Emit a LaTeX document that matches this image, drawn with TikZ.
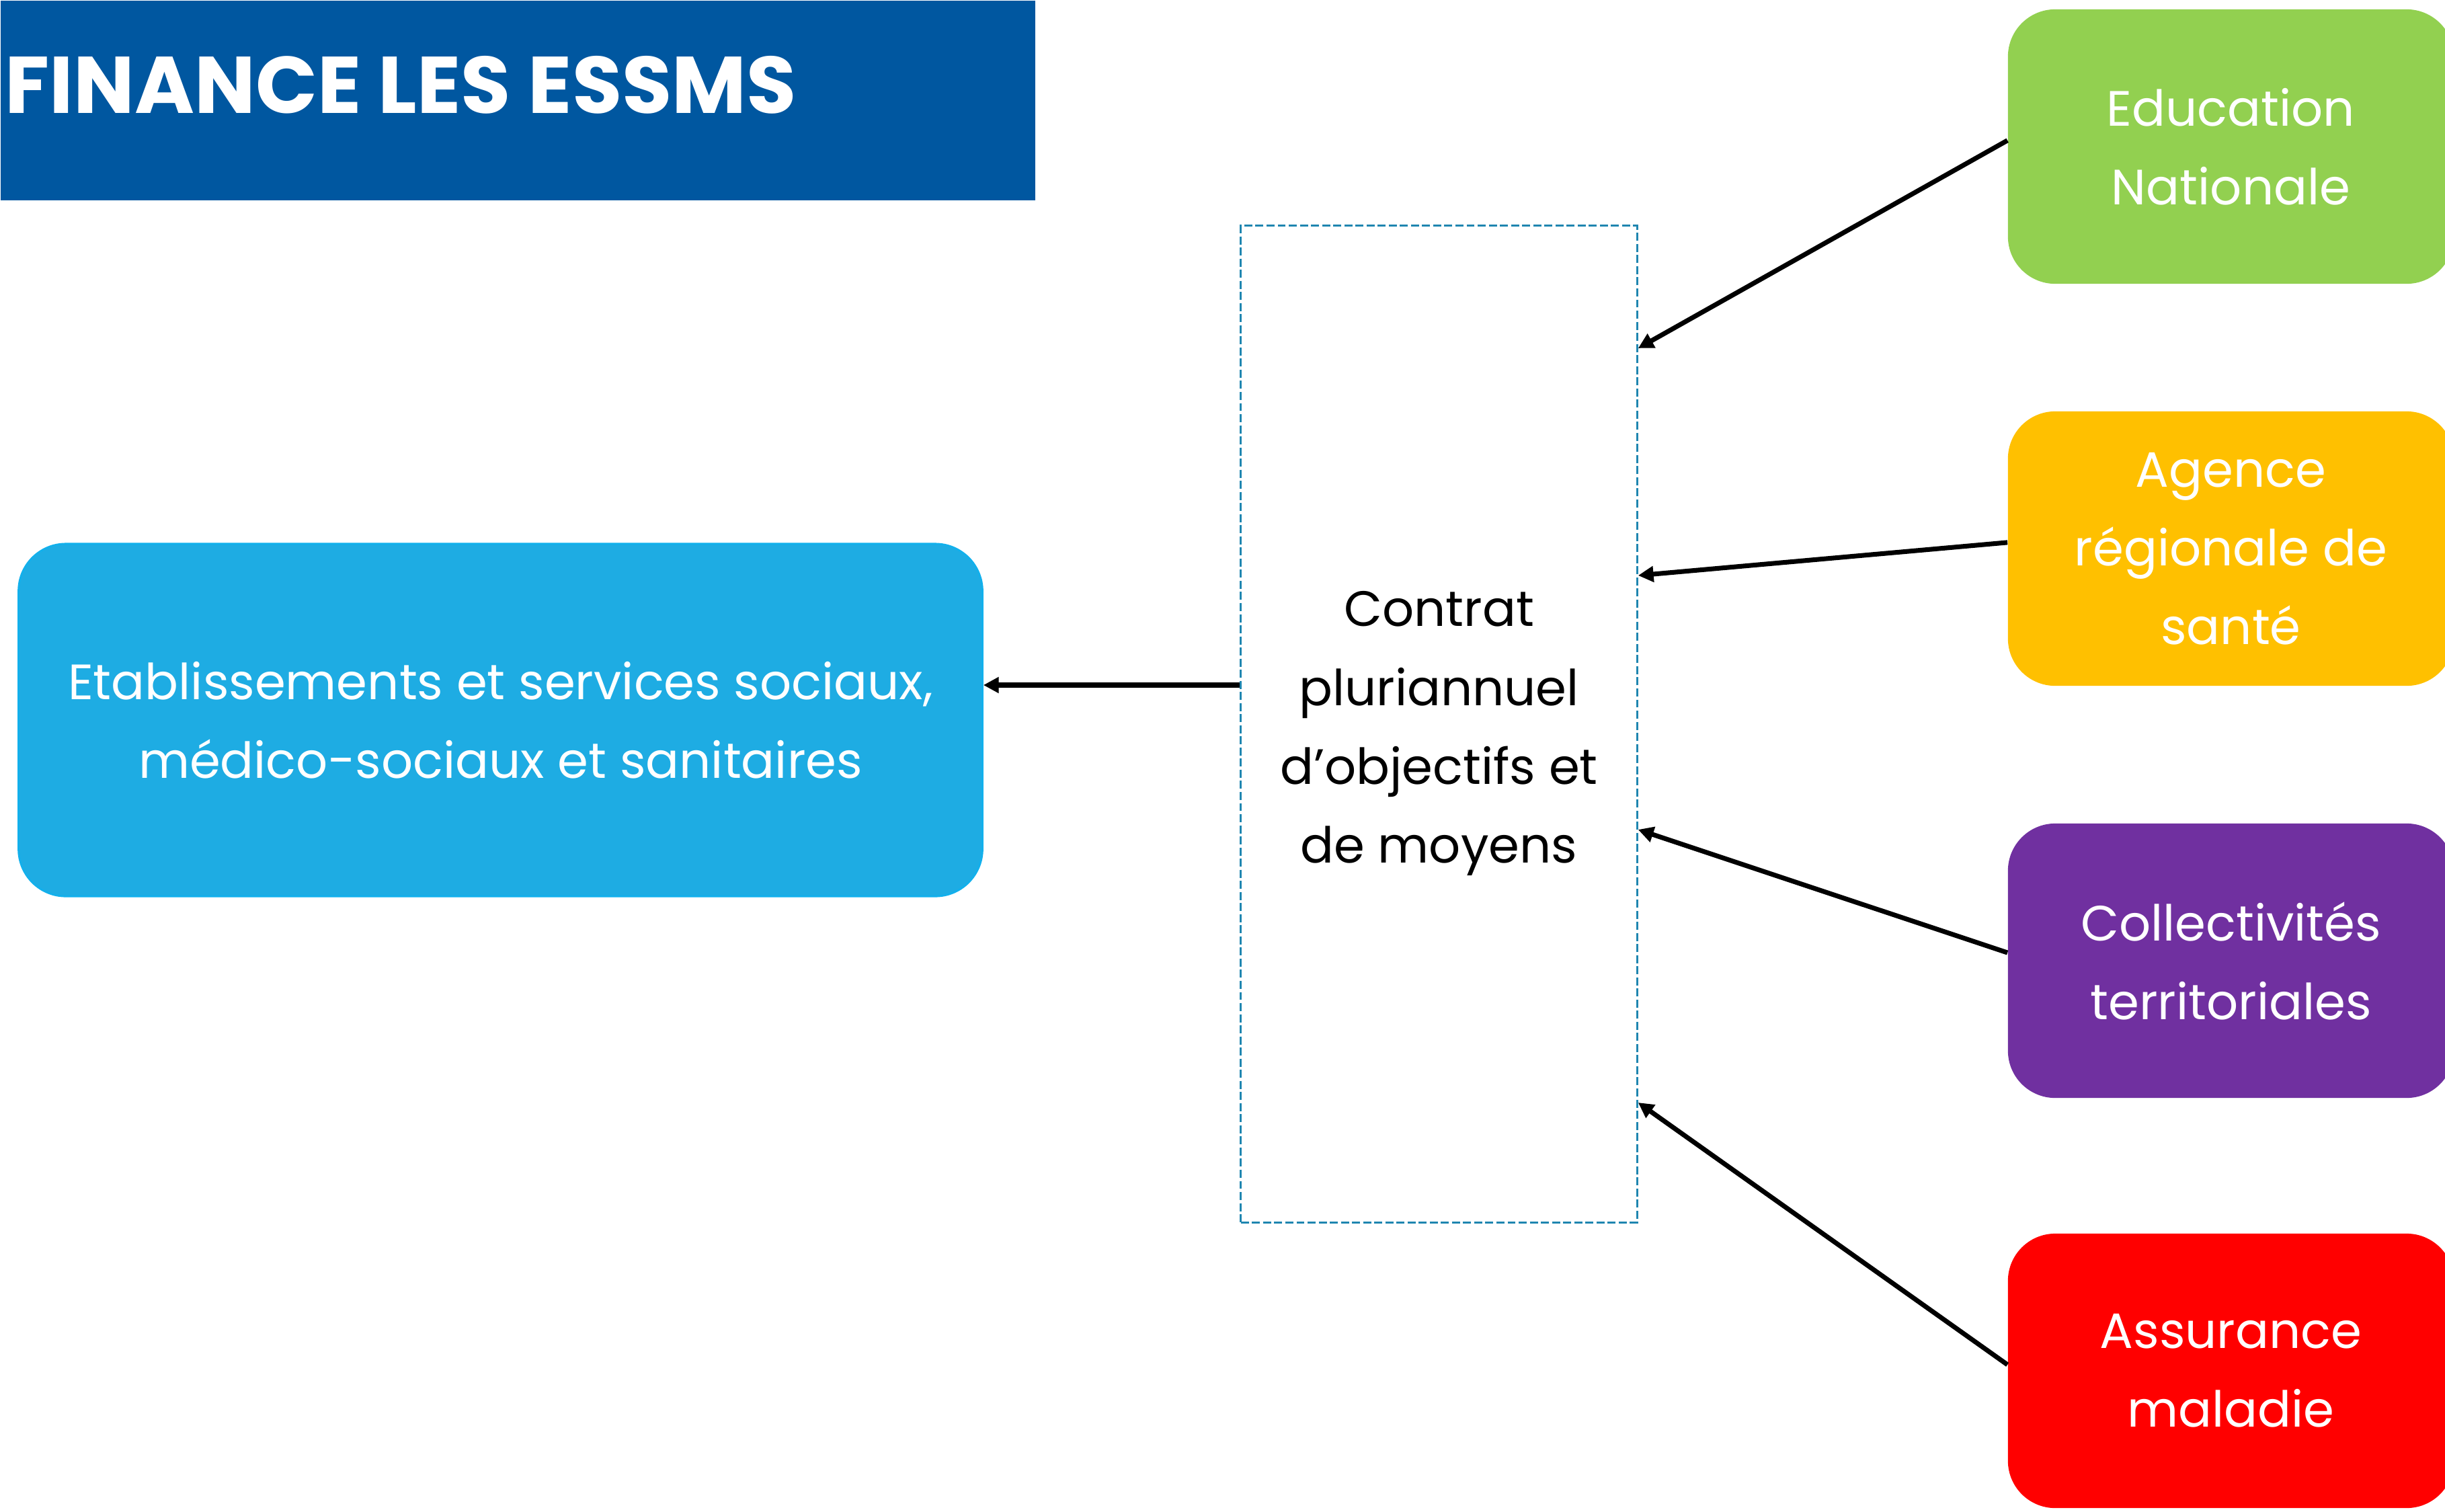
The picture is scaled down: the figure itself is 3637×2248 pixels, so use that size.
\documentclass[tikz,border=0pt]{standalone}
\usepackage{fontspec}
\setmainfont{Poppins}
\newfontfamily\titlefnt[FakeStretch=1.01]{Poppins}
\usetikzlibrary{arrows.meta,calc}
\definecolor{titleblue}{HTML}{0057A0}
\definecolor{boxblue}{HTML}{1EACE3}
\definecolor{edgeblue}{HTML}{12B0EC}
\definecolor{dashblue}{HTML}{1F86B0}
\definecolor{edugreen}{HTML}{92D050}
\definecolor{arsyellow}{HTML}{FFC000}
\definecolor{ctpurple}{HTML}{7030A0}
\definecolor{amred}{HTML}{FF0000}
\newcommand\boxtxt{\fontsize{21}{33.3}\selectfont}
\begin{document}
\begin{tikzpicture}[x=0.01cm,y=-0.01cm,
  cbox/.style={rounded corners=20pt, inner sep=0pt, align=center, text=white, font=\boxtxt},
  srcbox/.style={cbox, minimum width=6.63cm, minimum height=4.08cm},
  arr/.style={line width=2pt, -{Triangle[length=6.5pt,width=6.5pt]}}]
\useasboundingbox (0,0) rectangle (3637,2248);
\clip (0,0) rectangle (3637,2248);
% title band
\node[fill=titleblue, inner sep=0pt, minimum width=15.38cm, minimum height=2.97cm, anchor=north west] (band) at (0,0) {};
\node[anchor=base west, inner sep=0pt, text=white, font=\titlefnt\bfseries\fontsize{34}{40}\selectfont] (title) at (7,168) {FINANCE LES ESSMS};
% left box
\node[cbox, fill=boxblue, draw=edgeblue, line width=0.8pt, minimum width=14.33cm, minimum height=5.24cm] (esms) at (744.5,1071)
  {Etablissements et services sociaux,\\ médico-sociaux et sanitaires};
% central dashed box
\node[draw=dashblue, line width=0.9pt, dash pattern=on 3.4pt off 1.3pt, inner sep=0pt,
  minimum width=5.89cm, minimum height=14.82cm] (cpom) at (2140.5,1077) {};
\node[inner sep=0pt, align=center, font=\boxtxt] (cpomtxt) at ($(cpom.center)+(0,14)$)
  {Contrat\\ pluriannuel\\ d’objectifs et\\ de moyens};
% right boxes
\node[srcbox, fill=edugreen] (edu) at (3318.5,218) {Education\\ Nationale};
\node[srcbox, fill=arsyellow] (ars) at (3318.5,816) {Agence\\ régionale de\\ santé};
\node[srcbox, fill=ctpurple] (ct) at (3318.5,1429) {Collectivités\\ territoriales};
\node[srcbox, fill=amred] (am) at (3318.5,2039) {Assurance\\ maladie};
% connection points
\coordinate (e1) at ($(cpom.north east)+(0,184)$);
\coordinate (e2) at ($(cpom.north east)+(0,522)$);
\coordinate (e3) at ($(cpom.north east)+(0,900)$);
\coordinate (e4) at ($(cpom.north east)+(0,1306)$);
\coordinate (lw) at ($(cpom.north west)+(0,685)$);
% arrows
\draw[arr] ([yshift=2.6pt]edu.west) -- (e1);
\draw[arr] ([yshift=2.6pt]ars.west) -- (e2);
\draw[arr] ([yshift=3.4pt]ct.west) -- (e3);
\draw[arr] ([yshift=2.6pt]am.west) -- (e4);
\draw[arr] (lw) -- (lw -| esms.east);
\end{tikzpicture}
\end{document}
